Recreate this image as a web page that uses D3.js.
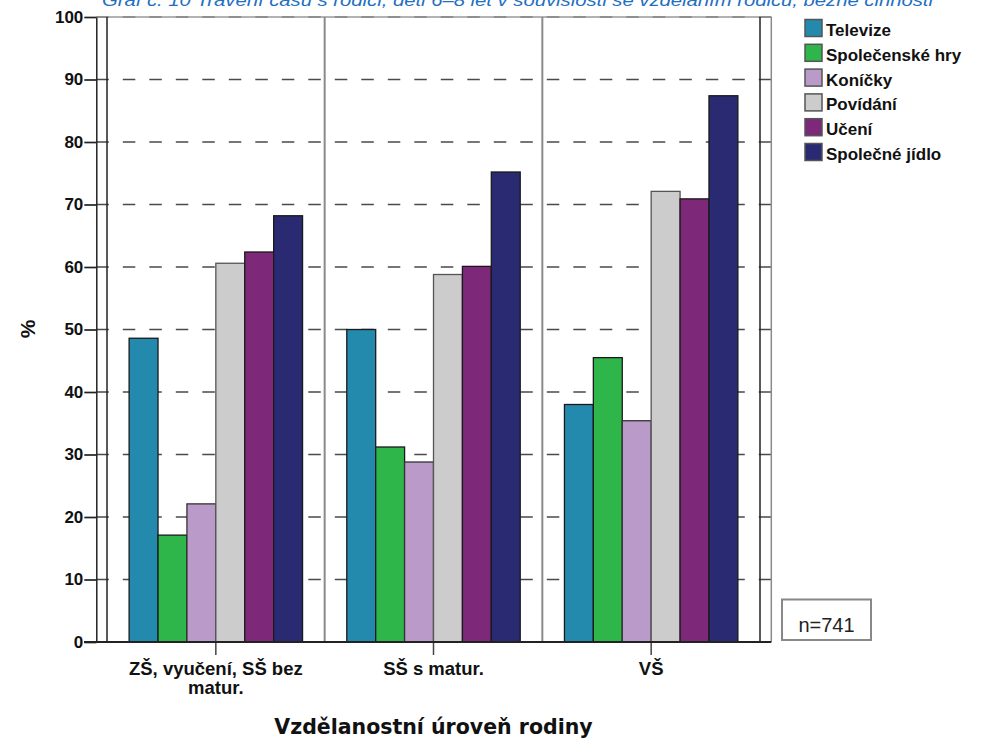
<!DOCTYPE html>
<html>
<head>
<meta charset="utf-8">
<script src="https://cdn.jsdelivr.net/npm/d3@7"></script>
<style>
  html, body { margin: 0; padding: 0; background: #fff; }
  svg { display: block; }
</style>
</head>
<body>
<svg id="chart" width="988" height="739"></svg>
<script>
// ---- data ----
const titleText = "Graf č. 10 Trávení času s rodiči, děti 6–8 let v souvislosti se vzděláním rodičů, běžné činnosti";
const categories = ["ZŠ, vyučení, SŠ bez matur.", "SŠ s matur.", "VŠ"];
const seriesNames = ["Televize", "Společenské hry", "Koníčky", "Povídání", "Učení", "Společné jídlo"];
const televize       = [48.6, 50.0, 38.0];
const spolecenskeHry = [17.1, 31.2, 45.5];
const konicky        = [22.1, 28.8, 35.4];
const povidani       = [60.6, 58.8, 72.1];
const uceni          = [62.4, 60.1, 70.9];
const spolecneJidlo  = [68.2, 75.2, 87.4];
const yTicks = [0, 10, 20, 30, 40, 50, 60, 70, 80, 90, 100];
const seriesColors = ["#2389ad", "#2fb64b", "#b99ac9", "#cccccc", "#7d2878", "#292a72"];
const seriesStrokes = ["#1a1a1a", "#1a1a1a", "#333333", "#555555", "#1a1a1a", "#1a1a1a"];
const xTitle = "Vzdělanostní úroveň rodiny";
const yTitle = "%";
const nLabel = "n=741";

const seriesValues = [televize, spolecenskeHry, konicky, povidani, uceni, spolecneJidlo];

// ---- layout ----
const svg = d3.select("#chart");
const plotL = 107, plotR = 760, plotT = 17, plotB = 642;
const outerL = 96.3, outerR = 771.3;
const font = "'Liberation Sans', Arial, sans-serif";

const y = d3.scaleLinear().domain([0, 100]).range([plotB, plotT]);
const x0 = d3.scaleBand().domain(categories).range([plotL, plotR]).padding(0);
const x1 = d3.scaleBand().domain(seriesNames).range([0, x0.bandwidth()]).paddingInner(0).paddingOuter(0.765);

svg.append("rect").attr("width", 988).attr("height", 739).attr("fill", "#fff");

// title (clipped at top as in reference)
svg.append("text")
  .attr("x", 102).attr("y", 6)
  .attr("textLength", 831).attr("lengthAdjust", "spacingAndGlyphs")
  .attr("font-family", font).attr("font-style", "italic")
  .attr("font-size", 17).attr("fill", "#1f6fc2")
  .text(titleText);

// gridlines
svg.append("g").selectAll("line")
  .data(yTicks.filter(d => d > 0))
  .join("line")
  .attr("x1", outerL).attr("x2", outerR)
  .attr("y1", d => y(d)).attr("y2", d => y(d))
  .attr("stroke", "#4a4a4a").attr("stroke-width", 1.7)
  .attr("stroke-dasharray", "12.5,14");

// top line
svg.append("line").attr("x1", outerL).attr("x2", outerR).attr("y1", plotT).attr("y2", plotT)
  .attr("stroke", "#999").attr("stroke-width", 1.5);

// category separators
svg.append("g").selectAll("line")
  .data(categories.slice(1))
  .join("line")
  .attr("x1", d => x0(d)).attr("x2", d => x0(d))
  .attr("y1", plotT).attr("y2", plotB)
  .attr("stroke", "#8a8a8a").attr("stroke-width", 2);

// frame lines
svg.append("line").attr("x1", plotL).attr("x2", plotL).attr("y1", plotT).attr("y2", plotB)
  .attr("stroke", "#222").attr("stroke-width", 1.5);
svg.append("line").attr("x1", plotR).attr("x2", plotR).attr("y1", plotT).attr("y2", plotB)
  .attr("stroke", "#222").attr("stroke-width", 1.5);
svg.append("line").attr("x1", outerR).attr("x2", outerR).attr("y1", plotT).attr("y2", plotB)
  .attr("stroke", "#8a8a8a").attr("stroke-width", 1.5);

// bars
const groups = svg.append("g").selectAll("g")
  .data(categories)
  .join("g")
  .attr("transform", d => `translate(${x0(d)},0)`);

groups.selectAll("rect")
  .data((c, ci) => seriesNames.map((s, si) => ({ s, si, v: seriesValues[si][ci] })))
  .join("rect")
  .attr("x", d => x1(d.s))
  .attr("width", x1.bandwidth())
  .attr("y", d => y(d.v))
  .attr("height", d => y(0) - y(d.v))
  .attr("fill", d => seriesColors[d.si])
  .attr("stroke", d => seriesStrokes[d.si])
  .attr("stroke-width", 1.3);

// y axis
const yAxis = d3.axisLeft(y).tickValues(yTicks).tickSize(12).tickSizeOuter(0).tickPadding(1);
const gy = svg.append("g").attr("transform", `translate(${outerL},0)`).call(yAxis);
gy.select(".domain").attr("stroke", "#222").attr("stroke-width", 1.5);
gy.selectAll(".tick line").attr("stroke", "#222").attr("stroke-width", 1.7);
gy.selectAll(".tick text")
  .attr("font-family", font).attr("font-weight", "bold").attr("font-size", 17).attr("fill", "#111");

// x axis
const xAxis = d3.axisBottom(x0).tickSize(13).tickSizeOuter(0).tickPadding(4);
const gx = svg.append("g").attr("transform", `translate(0,${plotB})`).call(xAxis);
gx.select(".domain").remove();
gx.selectAll(".tick line").attr("stroke", "#444").attr("stroke-width", 1.5);
gx.selectAll(".tick text")
  .attr("font-family", font).attr("font-weight", "bold").attr("font-size", 18.5).attr("fill", "#111")
  .each(function(d) {
    const t = d3.select(this);
    const words = d.split(" ");
    t.text(null);
    let line = [];
    let tspan = t.append("tspan").attr("x", 0).attr("dy", "0.71em");
    words.forEach(w => {
      line.push(w);
      tspan.text(line.join(" "));
      if (tspan.node().getComputedTextLength() > 195 && line.length > 1) {
        line.pop();
        tspan.text(line.join(" "));
        line = [w];
        tspan = t.append("tspan").attr("x", 0).attr("dy", "1.03em").text(w);
      }
    });
  });
gx.selectAll(".tick text").attr("y", 20);

// bottom axis line
svg.append("line").attr("x1", 84).attr("x2", outerR).attr("y1", plotB).attr("y2", plotB)
  .attr("stroke", "#222").attr("stroke-width", 2);

// axis titles
svg.append("text")
  .attr("x", (plotL + plotR) / 2).attr("y", 734)
  .attr("text-anchor", "middle")
  .attr("font-family", "'DejaVu Sans', Verdana, sans-serif").attr("font-weight", "bold")
  .attr("font-size", 20.5).attr("fill", "#111")
  .text(xTitle);

svg.append("text")
  .attr("transform", `translate(35,329) rotate(-90)`)
  .attr("text-anchor", "middle")
  .attr("font-family", font).attr("font-weight", "bold")
  .attr("font-size", 21).attr("fill", "#111")
  .text(yTitle);

// legend
const legend = svg.append("g").attr("transform", "translate(805,0)");
const li = legend.selectAll("g").data(seriesNames).join("g")
  .attr("transform", (d, i) => `translate(0,${28 + i * 24.8})`);
li.append("rect")
  .attr("x", 0).attr("y", -8.5).attr("width", 17).attr("height", 17)
  .attr("fill", (d, i) => seriesColors[i])
  .attr("stroke", "#555").attr("stroke-width", 1.5);
li.append("text")
  .attr("x", 21).attr("y", 2).attr("dy", "0.35em")
  .attr("font-family", font).attr("font-weight", "bold").attr("font-size", 17).attr("fill", "#111")
  .text(d => d);

// n box
svg.append("rect").attr("x", 782).attr("y", 599.5).attr("width", 89).attr("height", 40.5)
  .attr("fill", "#fff").attr("stroke", "#888").attr("stroke-width", 2);
svg.append("text").attr("x", 826.5).attr("y", 632).attr("text-anchor", "middle")
  .attr("font-family", font).attr("font-size", 20).attr("fill", "#222")
  .text(nLabel);
</script>
</body>
</html>
